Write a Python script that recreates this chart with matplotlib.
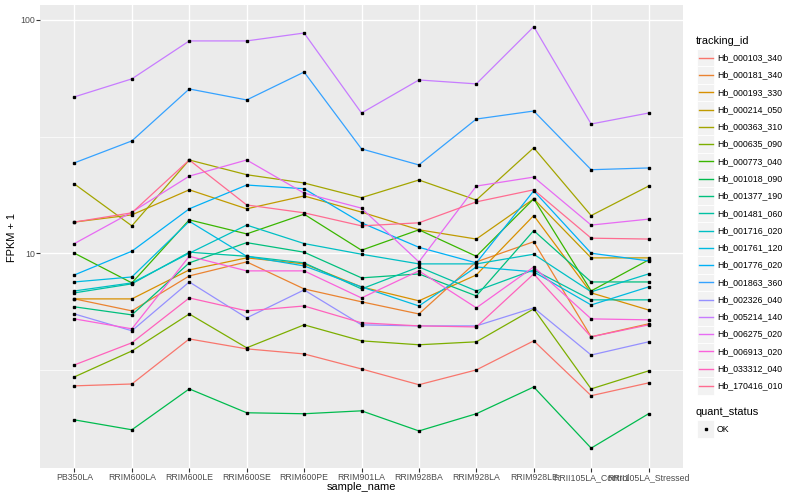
import matplotlib
matplotlib.use("Agg")
import matplotlib.pyplot as plt
import numpy as np
from matplotlib.patches import Rectangle
from matplotlib.ticker import FixedLocator, NullFormatter

plt.rcParams["font.family"] = ["Liberation Sans", "DejaVu Sans"]

samples = ["PB350LA", "RRIM600LA", "RRIM600LE", "RRIM600SE", "RRIM600PE",
           "RRIM901LA", "RRIM928BA", "RRIM928LA", "RRIM928LE",
           "RRII105LA_Control", "RRII105LA_Stressed"]

tracking_ids = ["Hb_000103_340", "Hb_000181_340", "Hb_000193_330", "Hb_000214_050",
                "Hb_000363_310", "Hb_000635_090", "Hb_000773_040", "Hb_001018_090",
                "Hb_001377_190", "Hb_001481_060", "Hb_001716_020", "Hb_001761_120",
                "Hb_001776_020", "Hb_001863_360", "Hb_002326_040", "Hb_005214_140",
                "Hb_006275_020", "Hb_006913_020", "Hb_033312_040", "Hb_170416_010"]

# ggplot hue palette, 20 levels
colors = ["#F8766D", "#EA8331", "#D89000", "#C09B00", "#A3A500", "#7CAE00",
          "#39B600", "#00BB4E", "#00BF7D", "#00C1A3", "#00BFC4", "#00BAE0",
          "#00B0F6", "#35A2FF", "#9590FF", "#C77CFF", "#E76BF3", "#FA62DB",
          "#FF62BC", "#FF6C91"]

# FPKM + 1, one list per tracking_id (in sample order)
hb_000103_340 = [2.70, 2.75, 4.29, 3.89, 3.70, 3.19, 2.73, 3.16, 4.21, 2.45, 2.78]
hb_000181_340 = [6.37, 5.66, 7.99, 9.18, 7.03, 6.19, 5.49, 9.18, 11.2, 4.38, 4.98]
hb_000193_330 = [6.37, 6.37, 8.48, 9.55, 9.00, 7.17, 6.25, 8.07, 14.5, 6.76, 5.71]
hb_000214_050 = [13.6, 14.6, 18.7, 15.5, 17.6, 15.0, 12.6, 11.5, 17.1, 9.55, 9.55]
hb_000363_310 = [19.8, 13.1, 25.1, 21.7, 20.0, 17.3, 20.6, 16.9, 28.3, 14.5, 19.4]
hb_000635_090 = [2.95, 3.81, 5.49, 3.93, 4.93, 4.21, 4.05, 4.17, 5.77, 2.62, 3.13]
hb_000773_040 = [10.0, 7.46, 13.9, 12.1, 14.7, 10.3, 12.6, 9.70, 17.1, 6.89, 9.36]
hb_001018_090 = [1.93, 1.75, 2.62, 2.07, 2.05, 2.11, 1.73, 2.05, 2.67, 1.46, 2.05]
hb_001377_190 = [5.89, 5.44, 9.09, 11.1, 10.1, 7.84, 8.15, 6.56, 12.5, 7.53, 7.53]
hb_001481_060 = [6.76, 7.39, 10.1, 9.70, 9.09, 7.03, 8.73, 6.89, 8.48, 6.31, 6.31]
hb_001716_020 = [6.89, 7.46, 10.0, 13.2, 11.0, 9.90, 9.00, 9.00, 9.90, 6.83, 8.15]
hb_001761_120 = [7.53, 7.91, 13.7, 9.70, 8.82, 7.17, 5.94, 8.73, 8.32, 6.00, 7.17]
hb_001776_020 = [8.07, 10.2, 15.5, 19.6, 18.9, 13.5, 10.6, 9.09, 18.5, 10.0, 9.27]
hb_001863_360 = [24.4, 30.3, 50.6, 45.4, 59.8, 28.0, 23.9, 37.6, 40.7, 22.8, 23.2]
hb_002326_040 = [5.49, 4.65, 7.53, 5.28, 6.96, 4.93, 4.88, 4.88, 5.83, 3.66, 4.17]
hb_005214_140 = [46.8, 55.9, 81.3, 81.3, 87.9, 39.9, 55.3, 53.2, 93.6, 35.8, 39.9]
hb_006275_020 = [11.0, 15.0, 21.4, 25.1, 18.1, 15.6, 9.18, 19.4, 21.2, 13.2, 14.0]
hb_006913_020 = [5.23, 4.74, 9.70, 8.40, 8.40, 6.43, 8.40, 5.83, 8.73, 5.23, 5.18]
hb_033312_040 = [3.32, 4.13, 6.43, 5.66, 5.94, 5.03, 4.88, 4.83, 8.15, 4.38, 4.93]
hb_170416_010 = [13.6, 14.9, 25.1, 16.1, 14.9, 13.1, 13.5, 16.6, 18.7, 11.6, 11.5]

series = [hb_000103_340, hb_000181_340, hb_000193_330, hb_000214_050, hb_000363_310,
          hb_000635_090, hb_000773_040, hb_001018_090, hb_001377_190, hb_001481_060,
          hb_001716_020, hb_001761_120, hb_001776_020, hb_001863_360, hb_002326_040,
          hb_005214_140, hb_006275_020, hb_006913_020, hb_033312_040, hb_170416_010]

W, H = 800, 500
fig = plt.figure(figsize=(W / 100, H / 100), dpi=100)
ax = fig.add_axes([40 / W, 1 - 468 / H, (683 - 40) / W, (468 - 5) / H])
ax.set_facecolor("#EBEBEB")
for s in ax.spines.values():
    s.set_visible(False)

x = np.arange(len(samples))
for vals, col in zip(series, colors):
    ax.plot(x, vals, color=col, lw=0.9, zorder=2)
for vals in series:
    ax.plot(x, vals, ls="none", marker="s", ms=2.0, color="black", zorder=3)

ax.set_yscale("log")
ax.set_ylim(1.2, 115.9)
ax.set_xlim(-0.6, len(samples) - 0.4)
ax.yaxis.set_major_locator(FixedLocator([10, 100]))
ax.yaxis.set_minor_locator(FixedLocator([10 ** 0.5, 10 ** 1.5]))
ax.yaxis.set_minor_formatter(NullFormatter())
ax.set_yticklabels(["10", "100"])
ax.set_xticks(x)
ax.set_xticklabels(samples)
ax.set_axisbelow(True)
ax.grid(which="major", color="white", lw=1.0)
ax.grid(which="minor", axis="y", color="white", lw=0.5)
ax.tick_params(which="major", length=2.75, width=0.8, color="#333333",
               labelcolor="#4D4D4D", labelsize=6.3, pad=1.0)
ax.tick_params(which="minor", length=0)

# axis titles
fig.text(361.5 / W, 1 - 487 / H, "sample_name", ha="center", va="center", fontsize=7.9)
fig.text(12 / W, 1 - 237 / H, "FPKM + 1", ha="center", va="center",
         rotation=90, fontsize=7.9)

# legends, drawn in pixel space
lax = fig.add_axes([0, 0, 1, 1])
lax.set_xlim(0, W)
lax.set_ylim(H, 0)
lax.axis("off")

key = 17.28
lax.text(696, 40.5, "tracking_id", ha="left", va="center", fontsize=7.9)
for i, (tid, col) in enumerate(zip(tracking_ids, colors)):
    yc = 57.7 + key * i
    lax.add_patch(Rectangle((697, yc - key / 2), key, key, fc="#F2F2F2",
                            ec="white", lw=0.6))
    lax.plot([698.7, 697 + key - 1.7], [yc, yc], color=col, lw=1.0)
    lax.text(717, yc, tid, ha="left", va="center", fontsize=6.3)

lax.text(696, 412, "quant_status", ha="left", va="center", fontsize=7.9)
lax.add_patch(Rectangle((697, 429 - key / 2), key, key, fc="#F2F2F2",
                        ec="white", lw=0.6))
lax.plot([697 + key / 2], [429], ls="none", marker="s", ms=2.0, color="black")
lax.text(717, 429, "OK", ha="left", va="center", fontsize=6.3)

fig.savefig("out.png", dpi=100, facecolor="white")
